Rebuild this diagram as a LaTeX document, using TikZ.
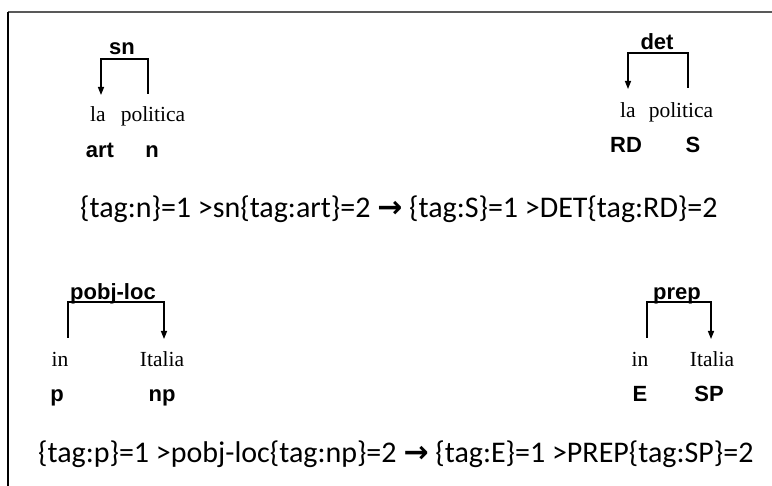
\documentclass[tikz,border=0pt]{standalone}
\usepackage{fontspec}
\setmainfont{Liberation Serif}
\newfontfamily\rulefont{Carlito}
\newfontfamily\labfont{Liberation Sans}
\newfontfamily\arrfont{DejaVu Sans}
\usetikzlibrary{arrows.meta}
\tikzset{
  word/.style={font=\fontsize{21.5}{24}\selectfont, inner sep=0pt, anchor=base},
  tagl/.style={font=\labfont\bfseries\fontsize{22}{24}\selectfont, inner sep=0pt, anchor=base},
  rel/.style={font=\labfont\bfseries\fontsize{22}{24}\selectfont, inner sep=0pt, anchor=base},
  ruletext/.style={font=\rulefont\fontsize{30}{32}\selectfont, inner sep=0pt, anchor=base west},
  bracket/.style={line width=1.4pt, line join=miter},
  arr/.style={bracket, -{Triangle[length=8pt,width=6pt]}, shorten >=-1pt},
}
\newcommand{\rarr}{{\arrfont\bfseries\char"2192}}
\begin{document}
\begin{tikzpicture}[x=1pt,y=-1pt]
\useasboundingbox (0,0) rectangle (772,486);
\fill[white] (0,0) rectangle (772,486);
% frame
\draw[line width=2pt, gray!70!black] (8,12) -- (772,12);
\draw[line width=2pt, black] (8,12) -- (8,486);

% panel 1
\node[rel] (sn) at (122,55) {sn};
\node[word] (la1) at (98,122) {la};
\node[word] (pol1) at (153,122) {politica};
\node[tagl] (art) at (100,158) {art};
\node[tagl] (n) at (152,158) {n};
\coordinate (p1rb) at (148,94);
\coordinate (p1rt) at (148,59);
\coordinate (p1lt) at (101,59);
\coordinate (p1lb) at (101,94);
\draw[arr] (p1rb) -- (p1rt) -- (p1lt) -- (p1lb);

% panel 2
\node[rel] (det) at (657,50) {det};
\node[word] (la2) at (628,118) {la};
\node[word] (pol2) at (681,118) {politica};
\node[tagl] (RD) at (626,153) {RD};
\node[tagl] (S) at (693,153) {S};
\coordinate (p2rb) at (688,88);
\coordinate (p2rt) at (688,53);
\coordinate (p2lt) at (628,53);
\coordinate (p2lb) at (628,88);
\draw[arr] (p2rb) -- (p2rt) -- (p2lt) -- (p2lb);

% rule 1
\node[ruletext] (rule1) at (80,218) {\{tag:n\}=1 >sn\{tag:art\}=2 \rarr{} \{tag:S\}=1 >DET\{tag:RD\}=2};

% panel 3
\node[rel] (pobj) at (113,300) {pobj-loc};
\node[word] (in1) at (60,367) {in};
\node[word] (ita1) at (162,367) {Italia};
\node[tagl] (p) at (57,402) {p};
\node[tagl] (np) at (162,402) {np};
\coordinate (p3lb) at (68,338);
\coordinate (p3lt) at (68,302);
\coordinate (p3rt) at (164,302);
\coordinate (p3rb) at (164,338);
\draw[arr] (p3lb) -- (p3lt) -- (p3rt) -- (p3rb);

% panel 4
\node[rel] (prep) at (677,300) {prep};
\node[word] (in2) at (640,367) {in};
\node[word] (ita2) at (712,367) {Italia};
\node[tagl] (E) at (640,402) {E};
\node[tagl] (SP) at (709,402) {SP};
\coordinate (p4lb) at (647,338);
\coordinate (p4lt) at (647,302);
\coordinate (p4rt) at (711,302);
\coordinate (p4rb) at (711,338);
\draw[arr] (p4lb) -- (p4lt) -- (p4rt) -- (p4rb);

% rule 2
\node[ruletext] (rule2) at (38,463) {\{tag:p\}=1 >pobj-loc\{tag:np\}=2 \rarr{} \{tag:E\}=1 >PREP\{tag:SP\}=2};
\end{tikzpicture}
\end{document}
